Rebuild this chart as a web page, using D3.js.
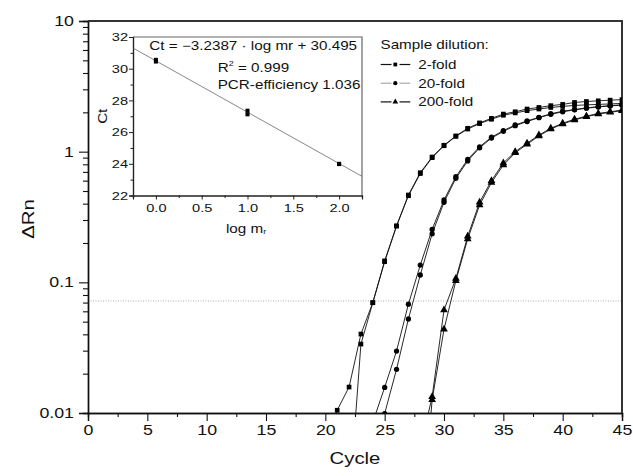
<!DOCTYPE html>
<html><head><meta charset="utf-8">
<script src="https://cdn.jsdelivr.net/npm/d3@7"></script>
<style>body{margin:0;background:#fff}svg{display:block}text{font-family:"Liberation Sans",Arial,sans-serif;fill:#111}</style>
</head><body><svg id="c" width="633" height="476"></svg>
<script>
// ---- data ----
const cycles = [20,21,22,23,24,25,26,27,28,29,30,31,32,33,34,35,36,37,38,39,40,41,42,43,44,45];
const fold2A   = [0.004,0.0105,0.0158,0.0402,0.070,0.146,0.27,0.466,0.69,0.91,1.12,1.32,1.51,1.66,1.80,1.94,2.02,2.12,2.18,2.25,2.30,2.38,2.42,2.45,2.48,2.50];
const fold2B   = [0.001,0.0012,0.002,0.0337,0.0698,0.144,0.27,0.46,0.68,0.90,1.11,1.31,1.49,1.64,1.77,1.90,1.98,2.06,2.12,2.18,2.22,2.26,2.28,2.30,2.32,2.34];
const fold20A  = [0.001,0.001,0.001,0.001,0.0085,0.0157,0.0298,0.068,0.1355,0.254,0.427,0.643,0.873,1.09,1.29,1.45,1.60,1.72,1.83,1.95,2.04,2.10,2.16,2.21,2.25,2.28];
const fold20B  = [0.001,0.001,0.001,0.001,0.003,0.0099,0.0216,0.0524,0.1138,0.235,0.41,0.625,0.85,1.07,1.27,1.43,1.58,1.70,1.82,1.93,2.02,2.09,2.15,2.20,2.24,2.27];
const fold200A = [0.001,0.001,0.001,0.001,0.001,0.001,0.001,0.001,0.0054,0.0133,0.0614,0.107,0.225,0.41,0.60,0.82,1.0,1.16,1.34,1.51,1.65,1.77,1.87,1.96,2.02,2.08];
const fold200B = [0.001,0.001,0.001,0.001,0.001,0.001,0.001,0.001,0.001,0.0126,0.0437,0.103,0.215,0.39,0.58,0.79,0.98,1.14,1.32,1.49,1.63,1.75,1.85,1.94,2.00,2.06];
const threshold = 0.072;
const legendLabels = ["2-fold","20-fold","200-fold"];
const xTicks = [0,5,10,15,20,25,30,35,40,45];
const yTicks = [0.01,0.1,1,10];
const yTickLabels = ["0.01","0.1","1","10"];
// inset
const logMr = [0,0,1,1,2,2];
const ctVals = [30.45,30.56,27.35,27.12,24.0,23.98];
const fitSlope = -3.2387, fitIntercept = 30.495;
const insetXTicks = [0,0.5,1,1.5,2];
const insetYTicks = [22,24,26,28,30,32];

// ---- layout ----
const S = 1.27; // horizontal text stretch
const svg = d3.select("#c");
const M = {l:88, r:622, t:21, b:413};
const x = d3.scaleLinear().domain([0,45]).range([M.l,M.r]);
const y = d3.scaleLog().domain([0.01,10]).range([M.b,M.t]);

function stext(g, px, py, str, size, anchor, rot){
  const t = g.append("text")
    .attr("transform", `translate(${px},${py})` + (rot?` rotate(${rot})`:"") + ` scale(${S},1)`)
    .attr("font-size", size).attr("text-anchor", anchor||"start").text(str);
  return t;
}

svg.append("defs").append("clipPath").attr("id","pc").append("rect")
  .attr("x",M.l).attr("y",M.t).attr("width",M.r-M.l).attr("height",M.b-M.t);

// threshold
svg.append("line").attr("x1",M.l).attr("x2",M.r).attr("y1",y(threshold)).attr("y2",y(threshold))
  .attr("stroke","#999").attr("stroke-width",0.8).attr("stroke-dasharray","1,1.5");

// axes
const xMinor = d3.range(2.5,45,5);
const xa = svg.append("g").attr("transform",`translate(0,${M.b})`);
xa.call(d3.axisBottom(x).tickValues(xMinor).tickSize(4).tickFormat(""));
const xA = svg.append("g").attr("transform",`translate(0,${M.b})`)
  .call(d3.axisBottom(x).tickValues(xTicks).tickSize(8).tickPadding(4).tickFormat(d3.format("d")));
xA.selectAll("text").attr("font-size",14).attr("transform",`scale(${S},1)`).attr("font-family","Liberation Sans, Arial, sans-serif").attr("fill","#111");

const yMinor = [];
[0.01,0.1,1].forEach(d=>{[2,3,4,5,6,7,8,9].forEach(k=>yMinor.push(d*k));});
svg.append("g").attr("transform",`translate(${M.l},0)`)
  .call(d3.axisLeft(y).tickValues(yMinor).tickSize(5).tickFormat(""));
const yA = svg.append("g").attr("transform",`translate(${M.l},0)`)
  .call(d3.axisLeft(y).tickValues(yTicks).tickSize(9).tickFormat((d,i)=>yTickLabels[i]));
yA.selectAll("text").attr("font-size",14).attr("x",-14/S).attr("transform",`scale(${S},1)`).attr("font-family","Liberation Sans, Arial, sans-serif").attr("fill","#111");
svg.selectAll(".domain").attr("stroke","#111").attr("stroke-width",1.4);
svg.selectAll(".tick line").attr("stroke","#111").attr("stroke-width",1.1);
// frame top/right
svg.append("path").attr("d",`M${M.l},${M.t}H${M.r}V${M.b}`).attr("fill","none").attr("stroke","#333").attr("stroke-width",2);

stext(svg, (M.l+M.r)/2, 464, "Cycle", 16, "middle");
stext(svg, 34, (M.t+M.b)/2+2, "\u0394Rn", 16, "middle", -90);

// curves
const plot = svg.append("g").attr("clip-path","url(#pc)");
const line = d3.line().x((d,i)=>x(cycles[i])).y(d=>y(d));
const seriesList = [
  {v:fold2A, m:"sq"},{v:fold2B, m:"sq"},
  {v:fold20A, m:"ci"},{v:fold20B, m:"ci"},
  {v:fold200A, m:"tr"},{v:fold200B, m:"tr"}];
const sym = {sq:d3.symbol(d3.symbolSquare,22), ci:d3.symbol(d3.symbolCircle,22), tr:d3.symbol(d3.symbolTriangle,26)};
seriesList.forEach(s=>{
  plot.append("path").attr("d",line(s.v)).attr("fill","none").attr("stroke","#111").attr("stroke-width",0.9);
});
seriesList.forEach(s=>{
  plot.selectAll(null).data(s.v).join("path")
    .attr("transform",(d,i)=>`translate(${x(cycles[i])},${y(d)})`)
    .attr("d",sym[s.m]()).attr("fill","#000");
});

// legend
const lg = svg.append("g");
stext(lg, 380.5, 49, "Sample dilution:", 12, "start");
const legMarks = ["sq","ci","tr"], legCol = ["#111","#aaa","#111"];
legendLabels.forEach((lab,i)=>{
  const cy = 64.5 + i*18.7;
  lg.append("line").attr("x1",380.7).attr("x2",391.5).attr("y1",cy).attr("y2",cy).attr("stroke",legCol[i]).attr("stroke-width",1.2);
  lg.append("line").attr("x1",399.5).attr("x2",410.3).attr("y1",cy).attr("y2",cy).attr("stroke",legCol[i]).attr("stroke-width",1.2);
  lg.append("path").attr("transform",`translate(395.3,${cy})`).attr("d",d3.symbol(d3.symbolSquare,14).type(d3.symbolType = (legMarks[i]=="sq"?d3.symbolSquare:legMarks[i]=="ci"?d3.symbolCircle:d3.symbolTriangle))()).attr("fill","#000");
  stext(lg, 418.3, cy+4.5, lab, 12, "start");
});

// ---- inset ----
const I = {l:133, r:362, t:37, b:195.5};
const ix = d3.scaleLinear().domain([-0.25,2.25]).range([I.l,I.r]);
const iy = d3.scaleLinear().domain([22,32]).range([I.b,I.t]);
const ig = svg.append("g");
ig.append("rect").attr("x",I.l).attr("y",I.t).attr("width",I.r-I.l).attr("height",I.b-I.t).attr("fill","#fff");
ig.append("path").attr("d",`M${I.l},${I.t}H${I.r}V${I.b}`).attr("fill","none").attr("stroke","#666").attr("stroke-width",1.2);
ig.append("g").attr("transform",`translate(0,${I.b})`).call(d3.axisBottom(ix).tickValues([-0.25,0.25,0.75,1.25,1.75,2.25]).tickSize(2.5).tickFormat(""));
const ixA = ig.append("g").attr("transform",`translate(0,${I.b})`).call(d3.axisBottom(ix).tickValues(insetXTicks).tickSize(4).tickPadding(4).tickFormat(d3.format(".1f")));
ig.append("g").attr("transform",`translate(${I.l},0)`).call(d3.axisLeft(iy).tickValues([23,25,27,29,31]).tickSize(2.5).tickFormat(""));
const iyA = ig.append("g").attr("transform",`translate(${I.l},0)`).call(d3.axisLeft(iy).tickValues(insetYTicks).tickSize(4).tickFormat(d3.format("d")));
ig.selectAll(".domain").attr("stroke","#222").attr("stroke-width",1.2);
ig.selectAll(".tick line").attr("stroke","#222");
ixA.selectAll("text").attr("font-size",11.5).attr("transform",`scale(${S},1)`).attr("font-family","Liberation Sans, Arial, sans-serif").attr("fill","#111");
iyA.selectAll("text").attr("font-size",11.5).attr("x",-5/S).attr("transform",`scale(${S},1)`).attr("font-family","Liberation Sans, Arial, sans-serif").attr("fill","#111");
// fit line
ig.append("line").attr("x1",ix(-0.25)).attr("y1",iy(fitIntercept+fitSlope*-0.25))
  .attr("x2",ix(2.25)).attr("y2",iy(fitIntercept+fitSlope*2.25)).attr("stroke","#555").attr("stroke-width",0.7);
ig.selectAll(null).data(logMr).join("rect")
  .attr("x",(d,i)=>ix(d)-2).attr("y",(d,i)=>iy(ctVals[i])-2).attr("width",4).attr("height",4).attr("fill","#000");
// inset texts
stext(ig, 149.3, 49.5, "Ct = \u22123.2387 \u00b7 log mr + 30.495", 12, "start");
const r2 = stext(ig, 217.7, 72, "", 12, "start");
r2.append("tspan").text("R");
r2.append("tspan").attr("font-size",7).attr("dy",-6).text("2");
r2.append("tspan").attr("dy",6).text(" = 0.999");
stext(ig, 217.7, 89, "PCR-efficiency 1.036", 12, "start");
const lm = stext(ig, 246, 233, "", 12, "middle");
lm.append("tspan").text("log m");
lm.append("tspan").attr("font-size",7).attr("dy",1).text("r");
stext(ig, 107, (I.t+I.b)/2, "Ct", 12, "middle", -90);
</script></body></html>
